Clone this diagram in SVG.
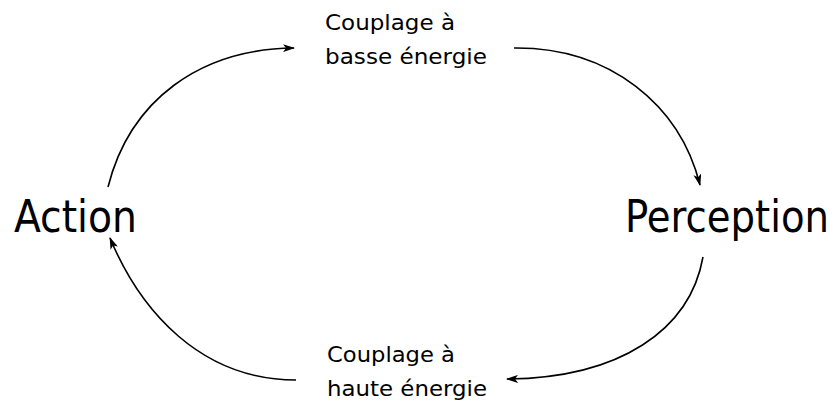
<svg xmlns="http://www.w3.org/2000/svg" width="835" height="405" viewBox="0 0 835 405">
<defs>
<style>
.big{font-family:"DejaVu Sans Condensed","DejaVu Sans",Verdana,sans-serif;font-stretch:condensed;font-size:45px;fill:#000}
.small{font-family:"DejaVu Sans",Verdana,sans-serif;font-size:22px;fill:#000}
.conn{fill:none;stroke:#000;stroke-width:1.6}
</style>
<marker id="arr" viewBox="0 0 12 8" refX="11" refY="4" markerWidth="12" markerHeight="8" markerUnits="userSpaceOnUse" orient="auto">
<path d="M0,0 L12,4 L0,8 L3,4 Z" fill="#000"/>
</marker>
</defs>
<rect width="835" height="405" fill="#fff"/>
<g id="connectors">
<path class="conn" marker-end="url(#arr)" d="M108,187 C130,100 200,49 294,48"/>
<path class="conn" marker-end="url(#arr)" d="M514,48 C610,47 680,105 700,185"/>
<path class="conn" marker-end="url(#arr)" d="M703,257 C690,330 620,378 507,379"/>
<path class="conn" marker-end="url(#arr)" d="M296,380 C200,380 140,310 110,238"/>
</g>
<g id="action"><text class="big" x="14" y="232" textLength="123" lengthAdjust="spacingAndGlyphs">Action</text></g>
<g id="perception"><text class="big" x="625" y="232" textLength="204" lengthAdjust="spacingAndGlyphs">Perception</text></g>
<g id="couplage-basse">
<text class="small" x="325" y="30" textLength="130" lengthAdjust="spacingAndGlyphs">Couplage à</text>
<text class="small" x="325" y="64" textLength="162" lengthAdjust="spacingAndGlyphs">basse énergie</text>
</g>
<g id="couplage-haute">
<text class="small" x="327" y="362" textLength="128" lengthAdjust="spacingAndGlyphs">Couplage à</text>
<text class="small" x="327" y="396" textLength="160" lengthAdjust="spacingAndGlyphs">haute énergie</text>
</g>
</svg>
